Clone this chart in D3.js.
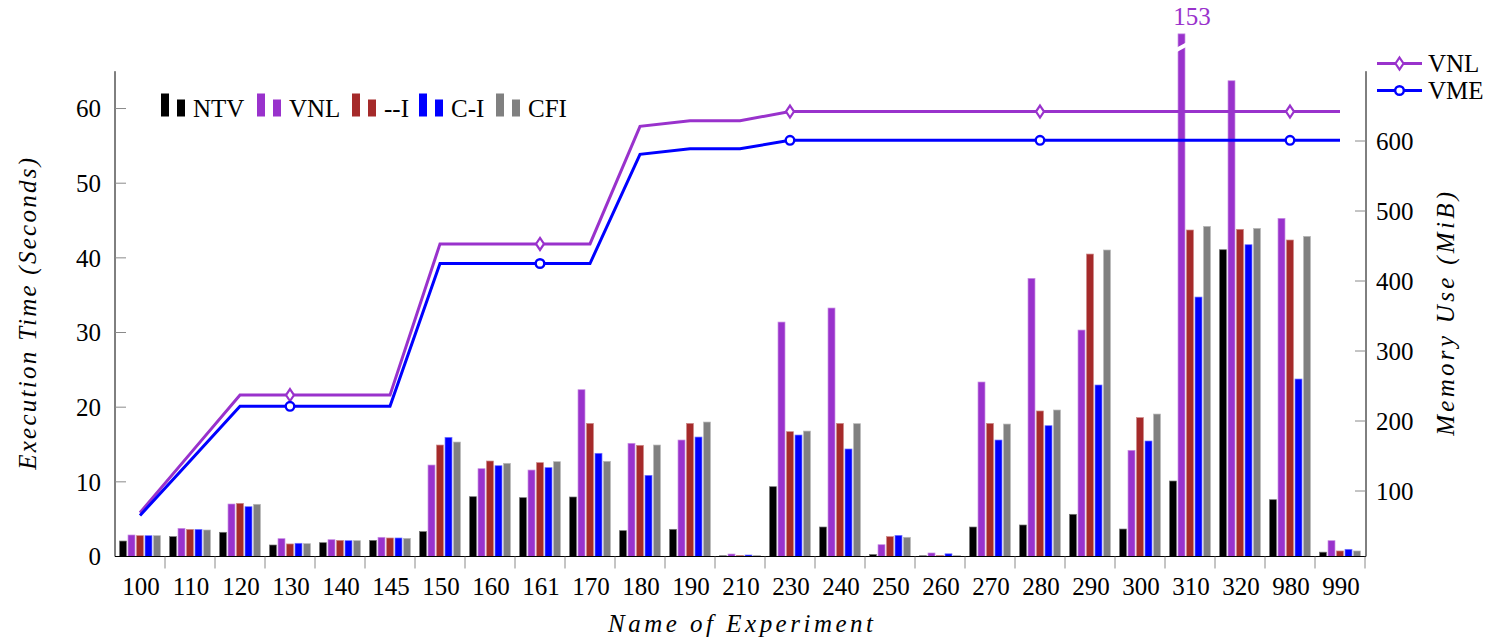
<!DOCTYPE html>
<html>
<head>
<meta charset="utf-8">
<script src="https://cdn.jsdelivr.net/npm/d3@7"></script>
<style>
  html, body { margin: 0; padding: 0; background: #fff; }
  svg { display: block; }
  text { font-family: "Liberation Serif", "Tinos", "DejaVu Serif", "Noto Serif", serif; }
</style>
</head>
<body>
<svg id="chart" width="1509" height="641"></svg>
<script>
// ---------- DATA ----------
const categories = ["100","110","120","130","140","145","150","160","161","170","180","190","210","230","240","250","260","270","280","290","300","310","320","980","990"];
const seriesNames = ["NTV","VNL","--I","C-I","CFI"];
const seriesColors = ["#000000","#9932CC","#A52A2A","#0000FF","#808080"];

const ntv = [2.07,2.66,3.24,1.54,1.85,2.16,3.33,8.01,7.88,7.97,3.46,3.64,0.10,9.35,3.95,0.27,0.10,3.95,4.22,5.65,3.68,10.11,41.09,7.61,0.58];
const vnl = [2.88,3.77,7.03,2.39,2.25,2.57,12.25,11.76,11.58,22.34,15.16,15.60,0.33,31.40,33.28,1.58,0.47,23.37,37.25,30.33,14.22,153,63.72,45.29,2.12];
const dashI = [2.79,3.63,7.12,1.68,2.16,2.48,14.93,12.79,12.57,17.83,14.89,17.83,0.15,16.72,17.83,2.66,0.13,17.83,19.49,40.51,18.60,43.73,43.82,42.39,0.74];
const cI = [2.79,3.63,6.67,1.77,2.12,2.48,15.96,12.16,11.90,13.82,10.87,16.00,0.20,16.27,14.40,2.83,0.36,15.60,17.52,22.97,15.47,34.75,41.76,23.77,0.96];
const cfi = [2.79,3.55,6.99,1.72,2.12,2.43,15.33,12.48,12.70,12.75,14.93,18.01,0.15,16.80,17.79,2.57,0.13,17.74,19.62,41.05,19.08,44.22,43.95,42.88,0.74];
const barSeries = [ntv, vnl, dashI, cI, cfi];

// memory lines (MiB)
const memVNL = [69,153,237,237,237,237,453,453,453,453,621,629,629,642,642,642,642,642,642,642,642,642,642,642,642];
const memVME = [65,143,221,221,221,221,425,425,425,425,581,589,589,601,601,601,601,601,601,601,601,601,601,601,601];
const lineNames = ["VNL","VME"];
const lineColors = ["#9932CC","#0000FF"];

const leftTicks = [0,10,20,30,40,50,60];
const rightTicks = [100,200,300,400,500,600];

// ---------- LAYOUT ----------
const svg = d3.select("#chart");
const L = 115, R = 1366, T = 71.2, B = 556.5;
const FONT = 25;
const displayCap = 70; // bars beyond the axis are cut here (broken bar)

const x = d3.scaleBand().domain(categories).range([L, 1365]).padding(0);
const xs = d3.scaleBand().domain(seriesNames).range([-21.25, 21.25]).paddingInner(0.18).paddingOuter(0.09);
const yL = d3.scaleLinear().domain([0, 65]).range([B, T]);
const yR = d3.scaleLinear().domain([0, 700]).range([561, 71]);

function lighten(c){ return d3.interpolateRgb(c, "#ffffff")(0.45); }

// ---------- BARS ----------
const gBars = svg.append("g");
barSeries.forEach((vals, si) => {
  gBars.selectAll(null).data(vals).enter().append("rect")
    .attr("x", (d, i) => x(categories[i]) + x.bandwidth()/2 + xs(seriesNames[si]))
    .attr("width", xs.bandwidth())
    .attr("y", d => yL(Math.min(d, displayCap)))
    .attr("height", d => B - yL(Math.min(d, displayCap)))
    .attr("fill", seriesColors[si])
    .attr("stroke", lighten(seriesColors[si]))
    .attr("stroke-width", 0.7);
});

// broken bar mark + value label for values beyond the axis
barSeries.forEach((vals, si) => {
  vals.forEach((v, i) => {
    if (v > displayCap) {
      const bx = x(categories[i]) + x.bandwidth()/2 + xs(seriesNames[si]);
      const bw = xs.bandwidth();
      const yb = yL(68.2);
      svg.append("path")
        .attr("d", `M${bx-2},${yb+3} L${bx+bw+2},${yb-3}`)
        .attr("stroke", "#fff").attr("stroke-width", 4).attr("fill", "none");
      svg.append("text")
        .attr("x", x(categories[i]) + x.bandwidth()/2 + 2)
        .attr("y", 25)
        .attr("text-anchor", "middle")
        .attr("font-size", FONT)
        .attr("fill", seriesColors[si])
        .text(String(v));
    }
  });
});

// ---------- AXES ----------
const tickColor = "#8a8a8a";
// left axis
svg.append("line").attr("x1", L).attr("x2", L).attr("y1", T).attr("y2", B).attr("stroke", "#000").attr("stroke-width", 1);
svg.selectAll(null).data(leftTicks).enter().append("line")
  .attr("x1", L).attr("x2", L + 11).attr("y1", d => yL(d)).attr("y2", d => yL(d))
  .attr("stroke", tickColor).attr("stroke-width", 1);
svg.selectAll(null).data(leftTicks).enter().append("text")
  .attr("x", L - 14).attr("y", d => yL(d)).attr("dy", "0.35em")
  .attr("text-anchor", "end").attr("font-size", FONT).text(d => d);

// right axis
svg.append("line").attr("x1", R).attr("x2", R).attr("y1", T).attr("y2", B).attr("stroke", "#000").attr("stroke-width", 1);
svg.selectAll(null).data(rightTicks).enter().append("line")
  .attr("x1", R - 11).attr("x2", R).attr("y1", d => yR(d)).attr("y2", d => yR(d))
  .attr("stroke", tickColor).attr("stroke-width", 1);
svg.selectAll(null).data(rightTicks).enter().append("text")
  .attr("x", R + 10).attr("y", d => yR(d)).attr("dy", "0.35em")
  .attr("text-anchor", "start").attr("font-size", FONT).text(d => d);

// bottom axis
svg.append("line").attr("x1", L).attr("x2", R).attr("y1", B).attr("y2", B).attr("stroke", "#000").attr("stroke-width", 1.2);
const boundaries = categories.slice(1).map(c => x(c)).concat([x(categories[categories.length-1]) + x.bandwidth()]);
svg.selectAll(null).data(boundaries).enter().append("line")
  .attr("x1", d => d).attr("x2", d => d).attr("y1", B).attr("y2", B + 12)
  .attr("stroke", tickColor).attr("stroke-width", 1);
svg.selectAll(null).data(categories).enter().append("text")
  .attr("x", d => x(d) + x.bandwidth()/2 + 1).attr("y", 595)
  .attr("text-anchor", "middle").attr("font-size", FONT).text(d => d);

// axis titles
svg.append("text")
  .attr("transform", `translate(36,${(T+B)/2}) rotate(-90)`)
  .attr("text-anchor", "middle").attr("font-size", FONT).attr("font-style", "italic")
  .attr("textLength", 312).attr("lengthAdjust", "spacing")
  .text("Execution Time (Seconds)");
svg.append("text")
  .attr("transform", `translate(1454,${(T+B)/2}) rotate(-90)`)
  .attr("text-anchor", "middle").attr("font-size", FONT).attr("font-style", "italic")
  .attr("textLength", 244).attr("lengthAdjust", "spacing")
  .text("Memory Use (MiB)");
svg.append("text")
  .attr("x", (L+R)/2).attr("y", 632)
  .attr("text-anchor", "middle").attr("font-size", FONT).attr("font-style", "italic")
  .attr("textLength", 265).attr("lengthAdjust", "spacing")
  .text("Name of Experiment");

// ---------- LINES ----------
const cx = i => x(categories[i]) + x.bandwidth()/2;
const lineData = [memVNL, memVME];
const lineGen = d3.line().x((d, i) => cx(i)).y(d => yR(d));
lineData.forEach((vals, li) => {
  svg.append("path").datum(vals)
    .attr("d", lineGen)
    .attr("fill", "none").attr("stroke", lineColors[li])
    .attr("stroke-width", 3).attr("stroke-linejoin", "miter");
});
function diamond(g, px, py, col) {
  g.append("path").attr("d", `M${px},${py-6} L${px+4},${py} L${px},${py+6} L${px-4},${py} Z`)
    .attr("fill", "#fff").attr("stroke", col).attr("stroke-width", 2.2);
}
function circ(g, px, py, col) {
  g.append("circle").attr("cx", px).attr("cy", py).attr("r", 4.3)
    .attr("fill", "#fff").attr("stroke", col).attr("stroke-width", 2.4);
}
memVNL.forEach((v, i) => { if (i % 5 === 3) diamond(svg, cx(i), yR(v), lineColors[0]); });
memVME.forEach((v, i) => { if (i % 5 === 3) circ(svg, cx(i), yR(v), lineColors[1]); });

// ---------- LEGENDS ----------
// bar legend (top-left)
const legX = [161, 257, 352, 419, 496];
const legG = svg.append("g");
seriesNames.forEach((n, i) => {
  const x0 = legX[i];
  legG.append("rect").attr("x", x0).attr("y", 93.5).attr("width", 8).attr("height", 23).attr("fill", seriesColors[i]);
  legG.append("rect").attr("x", x0 + 16).attr("y", 99.5).attr("width", 8).attr("height", 17).attr("fill", seriesColors[i]);
  legG.append("text").attr("x", x0 + 32).attr("y", 117).attr("font-size", FONT).text(n);
});

// line legend (top-right)
const lg2 = svg.append("g");
lineNames.forEach((n, i) => {
  const yy = 63.5 + i * 27;
  lg2.append("line").attr("x1", 1377).attr("x2", 1422).attr("y1", yy).attr("y2", yy)
    .attr("stroke", lineColors[i]).attr("stroke-width", 3);
  if (i === 0) diamond(lg2, 1399.5, yy, lineColors[i]); else circ(lg2, 1399.5, yy, lineColors[i]);
  lg2.append("text").attr("x", 1428).attr("y", yy + 8).attr("font-size", FONT).text(n);
});
</script>
</body>
</html>
